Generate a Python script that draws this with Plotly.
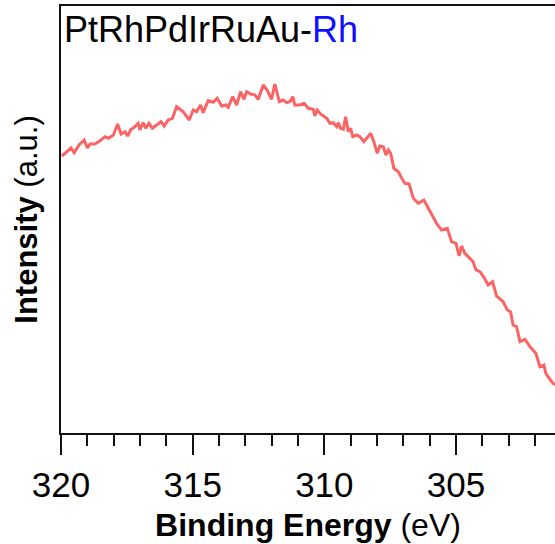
import plotly.graph_objects as go

energy = [319.97, 319.78, 319.62, 319.50, 319.32, 319.12, 319.00, 318.90, 318.71, 318.52,
          318.33, 318.20, 318.01, 317.85, 317.72, 317.57, 317.47, 317.34, 317.22, 317.07,
          317.00, 316.88, 316.78, 316.66, 316.53, 316.37, 316.20, 316.08, 315.93, 315.77,
          315.61, 315.48, 315.36, 315.13, 314.98, 314.85, 314.70, 314.60, 314.41, 314.22,
          314.07, 313.90, 313.74, 313.65, 313.48, 313.33, 313.18, 313.05, 312.95, 312.80,
          312.63, 312.51, 312.32, 312.17, 312.00, 311.88, 311.71, 311.56, 311.43, 311.31,
          311.20, 311.12, 310.93, 310.77, 310.61, 310.42, 310.36, 310.27, 310.14, 309.91,
          309.79, 309.66, 309.53, 309.47, 309.38, 309.28, 309.19, 309.09, 309.00, 308.92,
          308.77, 308.65, 308.50, 308.24, 308.12, 307.99, 307.89, 307.76, 307.66, 307.57,
          307.48, 307.36, 307.19, 307.06, 306.94, 306.78, 306.62, 306.43, 306.22, 306.05,
          305.74, 305.55, 305.33, 305.17, 305.00, 304.88, 304.79, 304.66, 304.47, 304.35,
          304.24, 304.09, 303.94, 303.78, 303.61, 303.46, 303.21, 303.05, 302.93, 302.83,
          302.70, 302.57, 302.38, 302.19, 301.97, 301.81, 301.66, 301.59, 301.37, 301.24]
intensity = [277, 281.3, 285, 280.3, 288, 293, 285, 289, 289, 292.3,
             296.3, 294.7, 298, 309, 299, 301.3, 297, 303.7, 305.7, 309.7,
             303, 310.3, 304.7, 309.7, 304.7, 308, 311.3, 307, 313, 314.7,
             326.3, 323.7, 321.3, 313, 323, 321.3, 328, 320.3, 332.3, 330.7,
             334.7, 327, 328, 325.7, 336.3, 328, 341.3, 333.7, 341.3, 339,
             338, 333.7, 348, 343, 333.7, 349, 331.3, 333, 330.3, 331.3,
             336.3, 328, 328, 329.7, 324.7, 323.7, 317, 323, 319, 314.7,
             309.7, 310.3, 306.3, 310.3, 304.7, 303.7, 316.3, 301.3, 304.7, 296.3,
             298, 296.3, 291.3, 299.7, 291.3, 279.7, 287, 286.3, 278, 283,
             279.7, 264.7, 261.3, 254.7, 249.7, 249, 234.7, 229.7, 233, 224.7,
             209.7, 203, 204.7, 191.3, 189.7, 177, 187, 179.7, 174.7, 171.3,
             163, 161.3, 155.7, 148, 151.3, 137, 131.3, 123, 121.3, 108,
             106.3, 91.3, 93.7, 86.3, 79.7, 66.3, 68, 59.7, 51.3, 48]

x_ticks = [320, 315, 310, 305]
x_ticklabels = ["320", "315", "310", "305"]

FONT = "Arial, Liberation Sans, sans-serif"

fig = go.Figure()
fig.add_trace(go.Scatter(x=energy, y=intensity, mode="lines",
                         line=dict(color="#FA6464", width=3), showlegend=False))

fig.update_layout(
    width=555, height=544,
    margin=dict(l=61, r=0, t=6, b=111),
    paper_bgcolor="white", plot_bgcolor="white",
    font=dict(family=FONT, color="black"),
    xaxis=dict(
        range=[320, 301.24], tickvals=x_ticks, ticktext=x_ticklabels,
        ticks="outside", ticklen=20, tickwidth=2, tickcolor="#111",
        showline=True, linewidth=2, linecolor="#111", mirror=True,
        showgrid=False, zeroline=False,
        tickfont=dict(size=35, family=FONT),
        minor=dict(dtick=1, ticks="outside", ticklen=11, tickwidth=2, tickcolor="#111", showgrid=False),
        title=dict(text="<b>Binding Energy</b> (eV)", font=dict(size=32, family=FONT), standoff=11),
    ),
    yaxis=dict(
        range=[0, 427], showticklabels=False, ticks="",
        showline=True, linewidth=2, linecolor="#111",
        showgrid=False, zeroline=False,
        title=dict(text="<b>Intensity</b> (a.u.)", font=dict(size=31, family=FONT), standoff=12),
    ),
    annotations=[dict(
        text="PtRhPdIrRuAu-<span style='color:#1010FF'>Rh</span>",
        xref="paper", yref="paper", x=0.003, y=0.998, xanchor="left", yanchor="top",
        showarrow=False, font=dict(size=36, family=FONT, color="black"),
    )],
)

fig.write_html("out.html")
